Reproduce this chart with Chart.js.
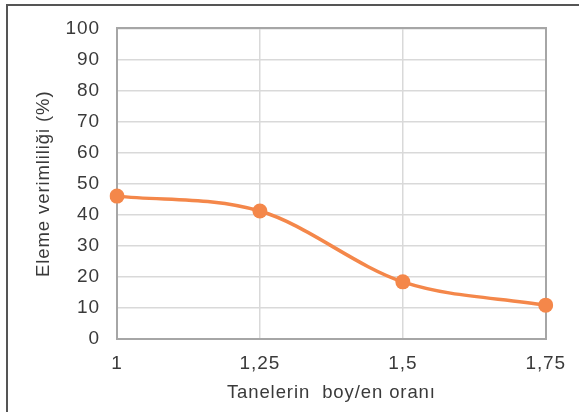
<!DOCTYPE html>
<html>
<head>
<meta charset="utf-8">
<script src="https://cdn.jsdelivr.net/npm/chart.js@4"></script>
<style>
html,body{margin:0;padding:0;background:#fff;}
#wrap{position:absolute;left:0;top:0;width:579px;height:412px;}
#frame{position:absolute;left:6px;top:4px;width:600px;height:600px;border-left:2px solid #555;border-top:2px solid #555;box-sizing:border-box;}
</style>
</head>
<body>
<div id="wrap"><div id="frame"></div><canvas id="c" width="579" height="412"></canvas></div>
<script>
const categories = ['1', '1,25', '1,5', '1,75'];
const efficiency = [46, 41.2, 18.4, 10.9];
const yTicks = [0, 10, 20, 30, 40, 50, 60, 70, 80, 90, 100];
const xTitle = 'Tanelerin  boy/en oranı';
const yTitle = 'Eleme verimliliği (%)';

const spacing = {
  id: 'spacing',
  beforeLayout(chart){ chart.ctx.letterSpacing = '0.9px'; },
  beforeDraw(chart){ chart.ctx.letterSpacing = '0.9px'; }
};

const tickFont = { family: 'Liberation Sans', size: 19 };

new Chart(document.getElementById('c'), {
  type: 'line',
  data: {
    labels: categories,
    datasets: [{
      data: efficiency,
      borderColor: '#F4874A',
      backgroundColor: '#F4874A',
      borderWidth: 3.5,
      pointRadius: 7.5,
      pointHoverRadius: 7.5,
      pointBorderWidth: 0,
      cubicInterpolationMode: 'monotone',
      tension: 0.4,
      fill: false
    }]
  },
  plugins: [spacing],
  options: {
    responsive: false,
    animation: false,
    devicePixelRatio: 1,
    layout: { padding: { left: 0, right: 33, top: 26, bottom: 0 } },
    plugins: { legend: { display: false }, tooltip: { enabled: false } },
    scales: {
      x: {
        type: 'category',
        offset: false,
        grid: { color: '#d9d9d9', lineWidth: 1.5, drawTicks: false },
        border: { color: '#a6a6a6', width: 2 },
        ticks: { color: '#3a3a3a', font: tickFont, padding: 13, maxRotation: 0 },
        title: { display: true, text: xTitle, color: '#3a3a3a', font: { family: 'Liberation Sans', size: 18.5 }, padding: { top: 0, bottom: 8 } },
        afterFit(s){ s.height = 73; }
      },
      y: {
        min: 0, max: 100,
        afterBuildTicks(s){ s.ticks = yTicks.map(v => ({ value: v })); },
        grid: { color: '#d9d9d9', lineWidth: 1.5, drawTicks: false },
        border: { color: '#a6a6a6', width: 2 },
        ticks: { color: '#3a3a3a', font: tickFont, padding: 17 },
        title: { display: true, text: yTitle, color: '#3a3a3a', font: { family: 'Liberation Sans', size: 18.5 }, padding: { top: 33, bottom: 0 } },
        afterFit(s){ s.width = 117; }
      },
      x2: {
        position: 'top', type: 'category', labels: categories, offset: false,
        grid: { display: false, drawTicks: false },
        border: { color: '#a6a6a6', width: 2 },
        ticks: { display: false },
        afterFit(s){ s.height = 0; }
      },
      y2: {
        position: 'right', min: 0, max: 100,
        grid: { display: false, drawTicks: false },
        border: { color: '#a6a6a6', width: 2 },
        ticks: { display: false },
        afterFit(s){ s.width = 0; }
      }
    }
  }
});
</script>
</body>
</html>
